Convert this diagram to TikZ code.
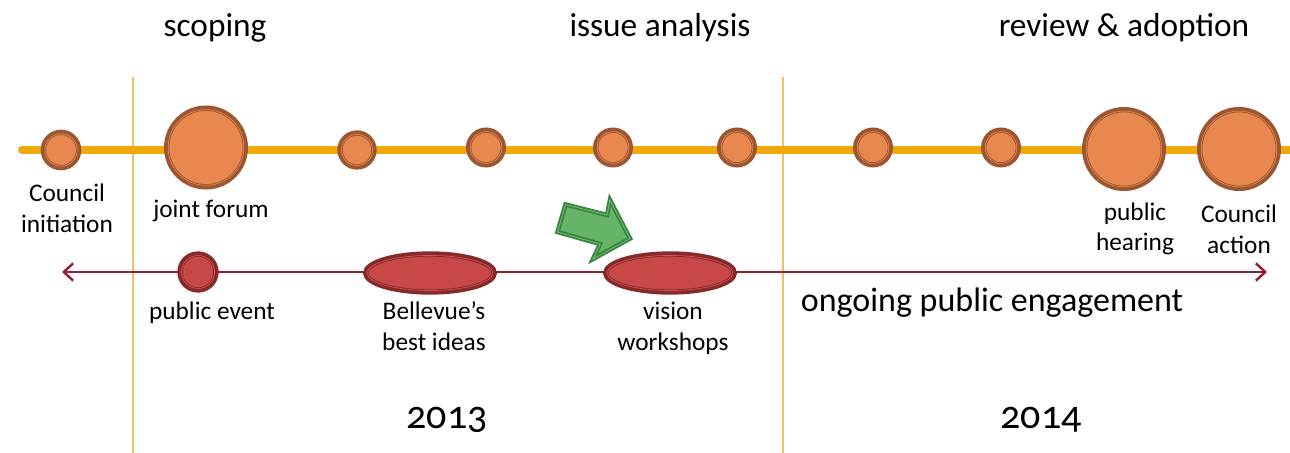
\documentclass[tikz,border=0pt]{standalone}
\usepackage{fontspec}
\setmainfont[Numbers=OldStyle]{Carlito}
\usetikzlibrary{shapes.geometric,arrows.meta}
\definecolor{yline}{HTML}{EFAA0A}
\definecolor{vline}{HTML}{F2C064}
\definecolor{ofill}{HTML}{E8874F}
\definecolor{obrown}{HTML}{9E5630}
\definecolor{olight}{HTML}{DC8A56}
\definecolor{rline}{HTML}{981B2E}
\definecolor{rfill}{HTML}{C84848}
\definecolor{rbord}{HTML}{882A2A}
\definecolor{rlight}{HTML}{CE5858}
\definecolor{gfill}{HTML}{66B468}
\definecolor{gbord}{HTML}{3A8640}
\definecolor{glight}{HTML}{72BA74}
\tikzset{
  evt/.style={circle, inner sep=0pt, fill=ofill, draw=obrown, line width=4pt, minimum size=#1},
  revt/.style={circle, inner sep=0pt, fill=rfill, draw=rbord, line width=4pt, minimum size=#1},
  rell/.style={ellipse, inner sep=0pt, fill=rfill, draw=rbord, line width=4pt,
    minimum width=96.5pt, minimum height=28.5pt},
  oin/.style={draw=olight, line width=0.5pt},
  rin/.style={draw=rlight, line width=0.5pt},
  lbl/.style={font=\fontsize{19}{23}\selectfont, align=center, inner sep=0pt},
  head/.style={font=\fontsize{25}{30}\selectfont, inner sep=0pt},
  eng/.style={font=\fontsize{25.5}{30}\selectfont, inner sep=0pt},
  year/.style={font=\fontsize{30}{36}\selectfont, inner sep=0pt},
}
\begin{document}
\begin{tikzpicture}[x=0.75pt,y=-0.75pt]
\useasboundingbox (0,0) rectangle (1290,453);
% vertical dividers
\coordinate (v1t) at (133,77); \coordinate (v1b) at (133,453);
\coordinate (v2t) at (783,77); \coordinate (v2b) at (783,453);
\draw[vline, line width=1pt] (v1t) -- (v1b);
\draw[vline, line width=1pt] (v2t) -- (v2b);
% timeline
\coordinate (ys) at (22,150); \coordinate (ye) at (1290,150);
\draw[yline, line width=6pt, line cap=round] (ys) -- (ye);
% public engagement line
\coordinate (rs) at (62,272); \coordinate (re) at (1267,272);
\draw[rline, line width=2.2pt, {Straight Barb[length=7pt,width=13pt,line width=1.8pt]}-{Straight Barb[length=7pt,width=13pt,line width=1.8pt]}] (rs) -- (re);
% events on timeline
\node[evt=26.5pt] (c1) at (61,150) {};
\node[evt=59pt] (c2) at (206,147.5) {};
\node[evt=25.5pt] (c3) at (357,150) {};
\node[evt=26pt] (c4) at (486,147.5) {};
\node[evt=26pt] (c5) at (613,147.5) {};
\node[evt=26pt] (c6) at (737,147.5) {};
\node[evt=26pt] (c7) at (873,147.5) {};
\node[evt=26pt] (c8) at (1001,147.5) {};
\node[evt=59pt] (c9) at (1124,149) {};
\node[evt=59pt] (c10) at (1239,149) {};
\foreach \n/\r in {c1/13.25, c2/29.5, c3/12.75, c4/13, c5/13, c6/13, c7/13, c8/13, c9/29.5, c10/29.5}
  \draw[oin] (\n.center) circle[radius=\r pt-1.1pt];
% engagement events
\node[revt=27pt] (p1) at (198,272) {};
\node[rell] (p2) at (430,273) {};
\node[rell] (p3) at (670,273) {};
\draw[rin] (p1.center) circle[radius=12.4pt];
\foreach \n in {p2,p3}
  \draw[rin] (\n.center) ellipse[x radius=47.1pt, y radius=13.15pt];
% green arrow
\draw[fill=gfill, draw=gbord, line width=3.4pt, line join=miter,
  postaction={draw=glight, line width=0.6pt}]
  (565.5,204.5) -- (607,215) -- (610,200) -- (630,238.5) -- (593,259) -- (600,244) -- (557.5,232) -- cycle;
% labels
\node[lbl] (l1) at (67,208) {Council\\initiation};
\node[lbl] (l2) at (211,211) {joint forum};
\node[lbl] (l9) at (1135,229) {public\\hearing};
\node[lbl] (l10) at (1239,229) {Council\\action};
\node[lbl] (lp1) at (212,313) {public event};
\node[lbl] (lp2) at (434,326) {Bellevue’s\\best ideas};
\node[lbl] (lp3) at (673,328) {vision\\workshops};
\node[eng] (engt) at (992,303) {ongoing public engagement};
\node[head] (h1) at (215,28) {scoping};
\node[head] (h2) at (660,28) {issue analysis};
\node[head] (h3) at (1124,28) {review \& adoption};
\node[year] (y1) at (447,420) {2013};
\node[year] (y2) at (1041,420) {2014};
\end{tikzpicture}
\end{document}
